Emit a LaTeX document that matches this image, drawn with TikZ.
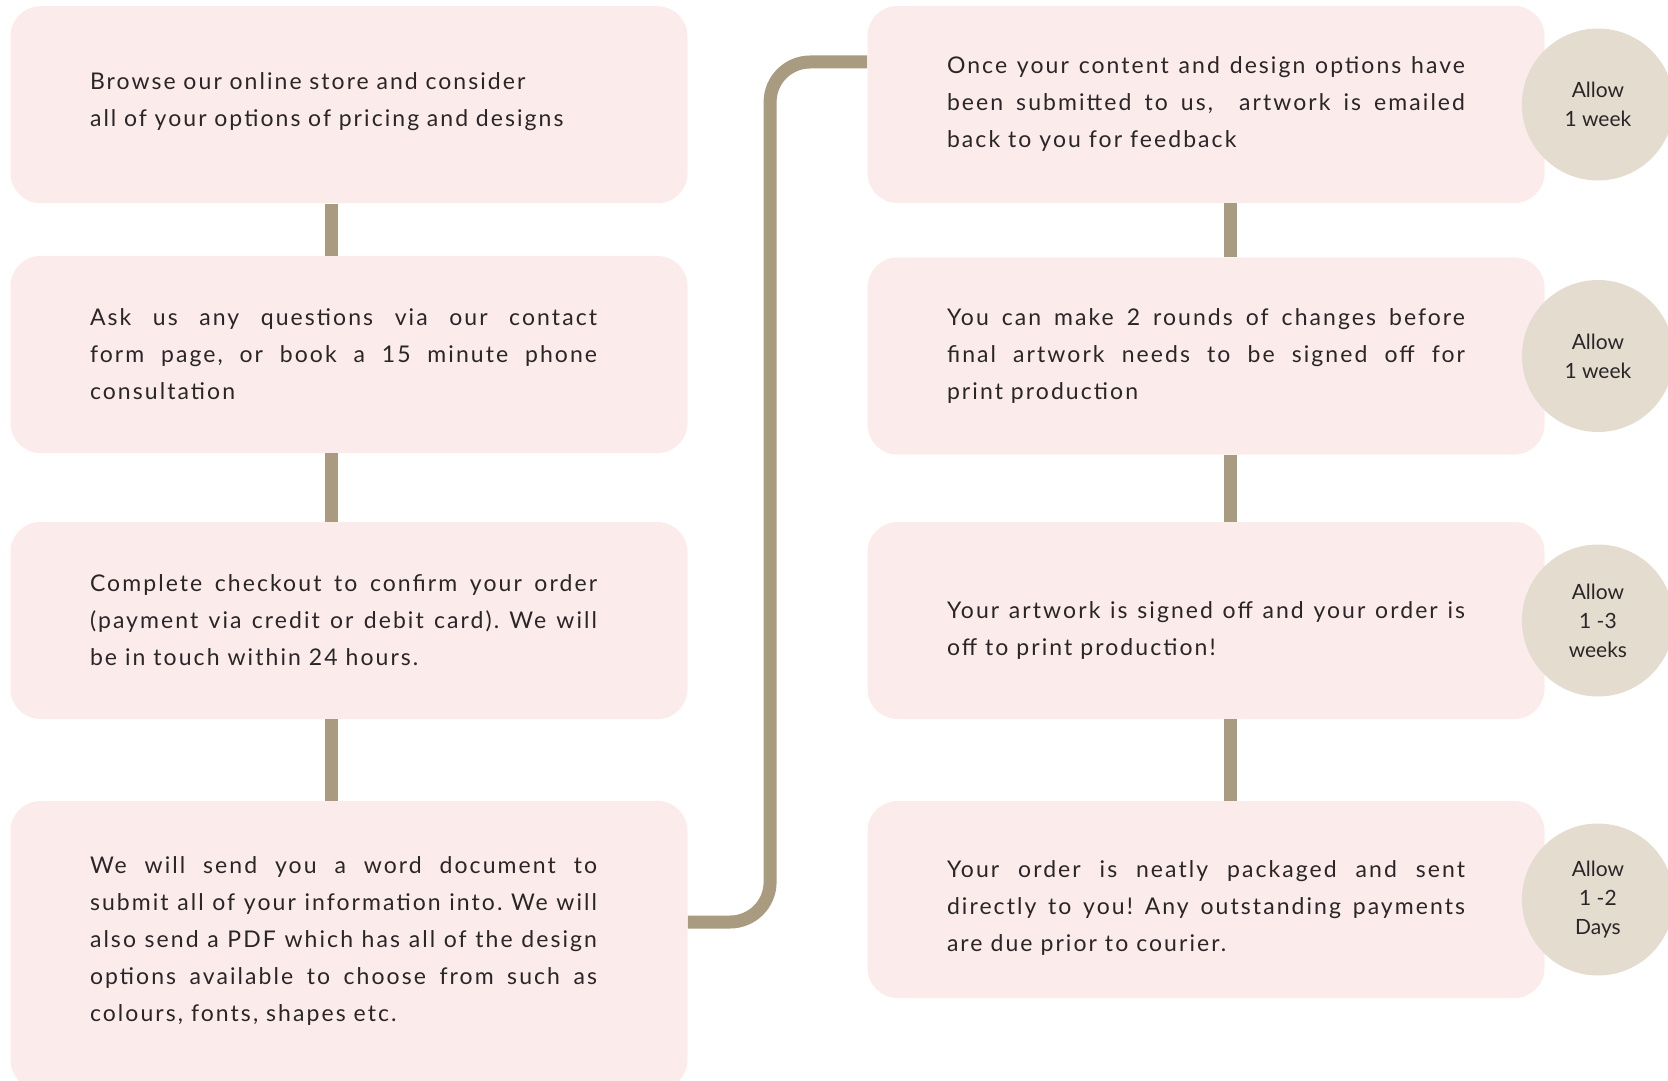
\documentclass[tikz,border=0pt]{standalone}
\usepackage{fontspec}
\setmainfont{Lato}[LetterSpace=9]
\newfontfamily\bubblefont{Lato}
\definecolor{boxpink}{HTML}{FBECEB}
\definecolor{bubblebeige}{HTML}{E5DCD0}
\definecolor{linkbrown}{HTML}{A89B7F}
\definecolor{ink}{HTML}{2A2527}
\frenchspacing
\tikzset{
  stepbox/.style={rectangle,rounded corners=15pt,fill=boxpink,minimum width=338.5pt,minimum height=98.5pt,
    inner sep=0pt,text width=253.5pt,align=justify,text=ink,font=\fontsize{11.5}{18.5}\selectfont},
  leftcol/.style={execute at begin node={\leftskip=-2.75pt\rightskip=2.75pt}},
  padbot/.style={execute at end node={\par\vspace*{#1}}},
  timebubble/.style={circle,fill=bubblebeige,minimum size=76pt,inner sep=0pt,align=center,text=ink,
    font=\bubblefont\fontsize{10.5}{14.5}\selectfont},
  link/.style={draw=linkbrown,line width=6.5pt}
}
\begin{document}
\begin{tikzpicture}[x=0.5pt,y=-0.5pt]
\pgfmathsetmacro{\colL}{349}
\pgfmathsetmacro{\colR}{1206}
\useasboundingbox(0,0)rectangle(1668,1080);
% left column
\node[stepbox,align=left,execute at begin node={\leftskip=-2.75pt},padbot=3.2pt](L1)at(\colL,104.7){Browse our online store and consider\\all of your options of pricing and designs};
\node[stepbox,leftcol](L2)at(\colL,354.5){Ask us any questions via our contact\linebreak form page, or book a 15 minute phone\linebreak consultation};
\node[stepbox,leftcol](L3)at(\colL,620.5){Complete checkout to confirm your order\linebreak (payment via credit or debit card). We will\linebreak be in touch within 24 hours.};
\node[stepbox,leftcol,padbot=4.25pt,minimum height=144.5pt](L4)at(\colL,945.5){We will send you a word document to\linebreak submit all of your information into. We will\linebreak also send a PDF which has all of the design\linebreak options available to choose from such as\linebreak colours, fonts, shapes etc.};
% right column
\node[stepbox,text width=259pt](R1)at(\colR,104.5){Once your content and design options have\linebreak been submitted to us,~ artwork is emailed\linebreak back to you for feedback};
\node[stepbox,text width=259pt](R2)at(\colR,356){You can make 2 rounds of changes before\linebreak final artwork needs to be signed off for\linebreak print production};
\node[stepbox,text width=259pt,padbot=-9.6pt](R3)at(\colR,620.5){Your artwork is signed off and your order is\linebreak off to print production!};
\node[stepbox,text width=259pt,padbot=-8.5pt](R4)at(\colR,899.5){Your order is neatly packaged and sent\linebreak directly to you! Any outstanding payments\linebreak are due prior to courier.};
% connectors
\foreach \a/\b in {L1/L2,L2/L3,L3/L4}{\draw[link]([xshift=-9pt]\a.south)--([xshift=-9pt]\b.north);}
\foreach \a/\b in {R1/R2,R2/R3,R3/R4}{\draw[link]([xshift=12.25pt]\a.south)--([xshift=12.25pt]\b.north);}
\draw[link,rounded corners=20pt]([yshift=11.75pt]L4.east)-|([xshift=-48.5pt,yshift=21.25pt]R1.west)--([yshift=21.25pt]R1.west);
% time bubbles
\foreach \n/\t in {R1/{Allow\\1 week},R2/{Allow\\1 week},R3/{Allow\\1 -3\\weeks},R4/{Allow\\1 -2\\Days}}
  {\node[timebubble](T\n)at([xshift=26.5pt]\n.east){\t};}
\end{tikzpicture}
\end{document}
